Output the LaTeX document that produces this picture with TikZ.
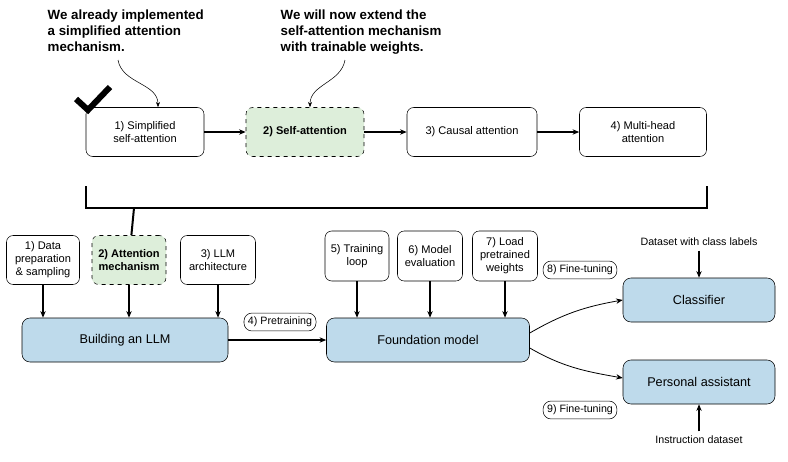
\documentclass[tikz,border=0pt]{standalone}
\usepackage{fontspec}
\setmainfont{Liberation Sans}
\usetikzlibrary{positioning,arrows.meta}
\definecolor{boxblue}{RGB}{190,218,235}
\definecolor{boxgreen}{RGB}{221,238,218}
\tikzset{
  stepbox/.style={draw, rounded corners=5pt, align=center, font=\fontsize{8.3}{9.8}\selectfont, inner sep=1pt},
  dashbox/.style={stepbox, dashed, fill=boxgreen, font=\fontsize{8.3}{9.8}\selectfont\bfseries},
  bigbox/.style={draw, rounded corners=6pt, fill=boxblue, font=\fontsize{9.5}{11}\selectfont, minimum height=44*0.75pt},
  tagbox/.style={draw, rounded corners=6pt, font=\fontsize{8}{9.5}\selectfont, inner sep=3pt},
  note/.style={align=left, font=\fontsize{10}{12}\selectfont\bfseries},
  arr/.style={-{Stealth[length=5pt,width=4pt]}, thick},
}
\begin{document}
\begin{tikzpicture}[x=0.75pt, y=-0.75pt]
  \useasboundingbox (0,0) rectangle (788,461);
  % top row
  \node[stepbox, minimum width=118*0.75pt, minimum height=49*0.75pt] (simple) at (145,132) {1) Simplified\\self-attention};
  \node[dashbox, minimum width=118*0.75pt, minimum height=49*0.75pt] (self) at (305,132) {2) Self-attention};
  \node[stepbox, minimum width=130*0.75pt, minimum height=49*0.75pt] (causal) at (472,132) {3) Causal attention};
  \node[stepbox, minimum width=127*0.75pt, minimum height=49*0.75pt] (multi) at (643,132) {4) Multi-head\\attention};
  \draw[arr] (simple) -- (self);
  \draw[arr] (self) -- (causal);
  \draw[arr] (causal) -- (multi);
  % notes
  \node[note, anchor=north west] (note1) at (43,5) {We already implemented\\a simplified attention\\mechanism.};
  \node[note, anchor=north west] (note2) at (276,5) {We will now extend the\\self-attention mechanism\\with trainable weights.};
  \coordinate (n1) at (118,60);
  \coordinate (n2) at (345,60);
  \draw[-{Stealth[length=4pt,width=3pt]}] (n1) to[out=-80, in=90] (simple.north -| 158,0);
  \draw[-{Stealth[length=4pt,width=3pt]}] (n2) to[out=-100, in=90] (self.north -| 310,0);
  % check mark
  \draw[line width=4.5pt] (76,99) -- (88,110) -- (110,87);
  % bracket
  \coordinate (bl) at (86,186);
  \coordinate (br) at (707,186);
  \coordinate (stem) at (134,208);
  \draw[line width=1.5pt] (bl) -- (86,208) -- (707,208) -- (br);
  % bottom left
  \node[stepbox, minimum width=73*0.75pt, minimum height=49*0.75pt] (data) at (43,260) {1) Data\\preparation\\\& sampling};
  \node[dashbox, minimum width=74*0.75pt, minimum height=49*0.75pt] (attn) at (129,260) {2) Attention\\mechanism};
  \node[stepbox, minimum width=75*0.75pt, minimum height=49*0.75pt] (arch) at (218,260) {3) LLM\\architecture};
  \draw[line width=1.5pt] (stem) -- (attn);
  \node[bigbox, minimum width=206*0.75pt] (build) at (125,340) {Building an LLM};
  \draw[arr] (data) -- (data |- build.north);
  \draw[arr] (attn) -- (attn |- build.north);
  \draw[arr] (arch) -- (arch |- build.north);
  \node[bigbox, minimum width=203*0.75pt] (found) at (428,340) {Foundation model};
  \node[tagbox] (pre) at (280,322) {4) Pretraining};
  \draw[arr] (build) -- (found);
  \node[stepbox, minimum width=64*0.75pt, minimum height=50*0.75pt] (train) at (357,256) {5) Training\\loop};
  \node[stepbox, minimum width=65*0.75pt, minimum height=50*0.75pt] (eval) at (430,256) {6) Model\\evaluation};
  \node[stepbox, minimum width=65*0.75pt, minimum height=50*0.75pt] (load) at (505,256) {7) Load\\pretrained\\weights};
  \draw[arr] (train) -- (train |- found.north);
  \draw[arr] (eval) -- (eval |- found.north);
  \draw[arr] (load) -- (load |- found.north);
  % right side
  \node[bigbox, minimum width=152*0.75pt] (cls) at (699,300) {Classifier};
  \node[bigbox, minimum width=152*0.75pt] (assist) at (699,382) {Personal assistant};
  \node[tagbox] (ft8) at (580,270) {8) Fine-tuning};
  \node[tagbox] (ft9) at (580,410) {9) Fine-tuning};
  \node[font=\fontsize{8}{9.5}\selectfont] (labels) at (699,242) {Dataset with class labels};
  \node[font=\fontsize{8}{9.5}\selectfont] (instr) at (699,440) {Instruction dataset};
  \draw[arr] (labels) -- (cls);
  \draw[arr] (instr) -- (assist);
  \draw[arr, semithick] (found.east |- 0,333) to[out=30, in=190] (cls.west |- 0,300);
  \draw[arr, semithick] (found.east |- 0,348) to[out=-30, in=170] (assist.west |- 0,378);
\end{tikzpicture}
\end{document}
